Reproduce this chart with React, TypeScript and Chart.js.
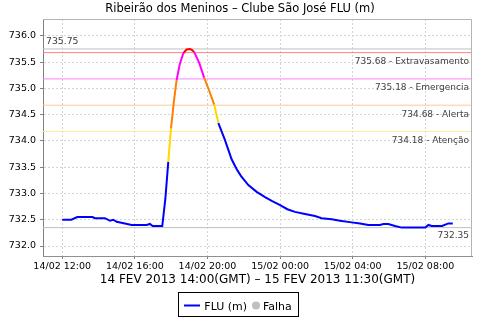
import React, { useEffect, useRef } from "react";
import { Chart, registerables } from "chart.js";

Chart.register(...registerables);

// Hours counted from 14/02/2013 00:00 (GMT)
const hours = [
  12.0, 12.5, 12.83, 13.67, 13.8, 14.35, 14.63, 14.81, 15.0, 15.45, 15.82, 16.65, 16.83, 16.98, 17.51,
  17.68, 17.84, 17.99, 18.15, 18.3, 18.48, 18.67, 18.85, 19.04, 19.15, 19.27, 19.55, 19.82, 20.1, 20.37,
  20.6, 20.96, 21.15, 21.33, 21.61, 21.85, 22.25, 22.71, 23.17, 23.54, 24.0, 24.4, 24.82, 25.37, 25.92,
  26.29, 26.84, 27.3, 27.94, 28.4, 28.86, 29.5, 29.69, 29.96, 30.33, 30.7, 32.0, 32.17, 32.35, 32.92,
  33.27, 33.51,
];
const levels = [
  732.5, 732.5, 732.55, 732.55, 732.53, 732.53, 732.48, 732.5, 732.46, 732.43, 732.4, 732.4, 732.42, 732.38, 732.38,
  732.9, 733.6, 734.24, 734.75, 735.16, 735.47, 735.67, 735.74, 735.75, 735.73, 735.69, 735.48, 735.2, 734.95, 734.69,
  734.34, 734.02, 733.83, 733.65, 733.46, 733.33, 733.16, 733.03, 732.93, 732.86, 732.78, 732.7, 732.65, 732.61, 732.57,
  732.53, 732.51, 732.48, 732.45, 732.43, 732.4, 732.4, 732.42, 732.42, 732.38, 732.35, 732.35, 732.4, 732.38, 732.38,
  732.43, 732.43,
];

const thresholdValues = [735.68, 735.18, 734.68, 734.18];
const thresholdNames = ["Extravasamento", "Emergencia", "Alerta", "Atenção"];
const thresholdLineColors = ["rgb(255,128,128)", "rgb(255,128,255)", "rgb(255,200,150)", "rgb(255,236,160)"];
const levelColors = ["#ff0000", "#ff00ff", "#ff8000", "#ffd800"];
const normalColor = "#0000ff";
const extremeLineColor = "rgb(192,192,192)";

const xMin = 10.94;
const xMax = 34.57;
const yMin = 731.81;
const yMax = 736.32;
const xTickHours = [12, 16, 20, 24, 28, 32];
const yTickValues = [732.0, 732.5, 733.0, 733.5, 734.0, 734.5, 735.0, 735.5, 736.0];

const titleText = "Ribeirão dos Meninos – Clube São José FLU (m)";
const xAxisTitle = "14 FEV 2013 14:00(GMT) – 15 FEV 2013 11:30(GMT)";
const seriesName = "FLU (m)";
const failName = "Falha";

const FONT = "DejaVu Sans";

function colorFor(v: number): string {
  for (let i = 0; i < thresholdValues.length; i++) {
    if (v >= thresholdValues[i]) return levelColors[i];
  }
  return normalColor;
}

function fmtHour(h: number): string {
  const day = h < 24 ? 14 : 15;
  const hh = Math.round(h % 24);
  return `${day}/02 ${String(hh).padStart(2, "0")}:00`;
}

const maxV = Math.max(...levels);
const minV = Math.min(...levels);

function hLine(v: number, color: string) {
  return {
    label: "_ref",
    data: [
      { x: xMin, y: v },
      { x: xMax, y: v },
    ],
    borderColor: color,
    borderWidth: 1,
    pointRadius: 0,
    tension: 0,
    fill: false,
    order: 2,
  };
}

const overlay = {
  id: "overlay",
  afterDraw(chart: any) {
    const { ctx, chartArea } = chart;
    const y = chart.scales.y;
    ctx.save();
    // plot frame (top and right)
    ctx.strokeStyle = "#b4b4b4";
    ctx.lineWidth = 1;
    ctx.beginPath();
    ctx.moveTo(chartArea.left, chartArea.top + 0.5);
    ctx.lineTo(chartArea.right - 0.5, chartArea.top + 0.5);
    ctx.lineTo(chartArea.right - 0.5, chartArea.bottom);
    ctx.stroke();

    // threshold labels
    ctx.fillStyle = "#404040";
    ctx.font = `9px "${FONT}"`;
    ctx.textBaseline = "middle";
    ctx.textAlign = "right";
    thresholdValues.forEach((v, i) => {
      const py = y.getPixelForValue(v);
      ctx.fillText(`${v.toFixed(2)} - ${thresholdNames[i]}`, chartArea.right - 3, py + 9.2);
    });
    ctx.fillText(minV.toFixed(2), chartArea.right - 3, y.getPixelForValue(minV) + 8.5);
    ctx.textAlign = "left";
    ctx.font = `9.3px "${FONT}"`;
    ctx.fillText(maxV.toFixed(2), chartArea.left + 3, y.getPixelForValue(maxV) - 7.7);

    // title
    ctx.fillStyle = "#000000";
    ctx.textBaseline = "alphabetic";
    ctx.textAlign = "center";
    ctx.font = `11.5px "${FONT}"`;
    ctx.fillText(titleText, 240, 12);

    // x axis title
    ctx.font = `12px "${FONT}"`;
    ctx.fillText(xAxisTitle, (chartArea.left + chartArea.right) / 2, 283.3);

    // legend
    ctx.strokeStyle = "#000000";
    ctx.lineWidth = 1;
    ctx.strokeRect(178.5, 292.5, 120, 24);
    ctx.strokeStyle = normalColor;
    ctx.lineWidth = 2;
    ctx.beginPath();
    ctx.moveTo(184, 305.5);
    ctx.lineTo(200, 305.5);
    ctx.stroke();
    ctx.fillStyle = "#000000";
    ctx.textAlign = "left";
    ctx.font = `11px "${FONT}"`;
    ctx.fillText(seriesName, 204.3, 310);
    ctx.fillStyle = "#c0c0c0";
    ctx.beginPath();
    ctx.arc(256, 305.5, 4, 0, Math.PI * 2);
    ctx.fill();
    ctx.fillStyle = "#000000";
    ctx.fillText(failName, 263, 310);
    ctx.restore();
  },
};

export default function App() {
  const ref = useRef<HTMLCanvasElement | null>(null);
  useEffect(() => {
    if (!ref.current) return;
    const chart = new Chart(ref.current, {
      type: "line",
      data: {
        datasets: [
          {
            label: seriesName,
            data: hours.map((h, i) => ({ x: h, y: levels[i] })),
            borderColor: normalColor,
            borderWidth: 2,
            pointRadius: 0,
            tension: 0,
            fill: false,
            order: 1,
            segment: {
              borderColor: (c: any) => colorFor(c.p1.parsed.y),
            },
          },
          hLine(maxV, extremeLineColor),
          hLine(minV, extremeLineColor),
          ...thresholdValues.map((v, i) => hLine(v, thresholdLineColors[i])),
        ],
      },
      options: {
        responsive: false,
        animation: false,
        devicePixelRatio: 1,
        layout: { padding: { left: 0, top: 19, right: 8, bottom: 0 } },
        plugins: {
          legend: { display: false },
          title: { display: false },
          tooltip: { enabled: false },
        },
        scales: {
          x: {
            type: "linear",
            min: xMin,
            max: xMax,
            afterFit: (s: any) => {
              s.height = 64;
            },
            afterBuildTicks: (s: any) => {
              s.ticks = xTickHours.map((v) => ({ value: v }));
            },
            ticks: {
              callback: (v: any) => fmtHour(Number(v)),
              font: { family: FONT, size: 9.5 },
              color: "#000000",
              padding: 2,
              maxRotation: 0,
              autoSkip: false,
            },
            grid: {
              color: "#d4d4d4",
              tickLength: 3,
              tickColor: "#808080",
            },
            border: { color: "#909090", width: 1, dash: [2, 2] },
          },
          y: {
            type: "linear",
            min: yMin,
            max: yMax,
            afterFit: (s: any) => {
              s.width = 43;
            },
            afterBuildTicks: (s: any) => {
              s.ticks = yTickValues.map((v) => ({ value: v }));
            },
            ticks: {
              callback: (v: any) => Number(v).toFixed(1),
              font: { family: FONT, size: 9.5 },
              color: "#000000",
              padding: 4,
              autoSkip: false,
            },
            grid: {
              color: "#d4d4d4",
              tickLength: 3,
              tickColor: "#808080",
            },
            border: { color: "#808080", width: 1, dash: [2, 2] },
          },
        },
      },
      plugins: [overlay],
    });
    return () => chart.destroy();
  }, []);
  return (
    <div style={{ position: "absolute", left: 0, top: 0, width: 480, height: 320, background: "#ffffff" }}>
      <canvas ref={ref} width={480} height={320} style={{ display: "block" }} />
    </div>
  );
}
